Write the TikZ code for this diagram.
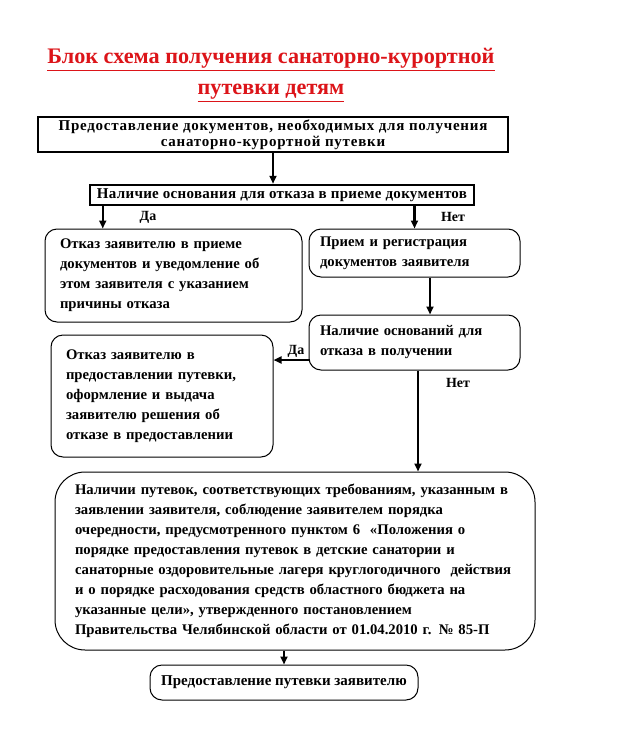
\documentclass[tikz,border=0pt]{standalone}
\usepackage{fontspec}
\setmainfont{Liberation Serif}
\usetikzlibrary{arrows.meta, positioning}
\definecolor{titlered}{RGB}{220, 20, 25}
\tikzset{
  sqbox/.style={rectangle, draw=black, line width=2.5pt, inner sep=0pt,
                minimum width=#1, align=center,
                font=\fontsize{15}{16}\selectfont\bfseries\addfontfeature{LetterSpace=5}},
  sqbox/.default=300pt,
  rbox/.style={rectangle, rounded corners=12pt, draw=black, line width=1pt,
               inner sep=0pt, minimum width=#1, align=left,
               font=\fontsize{14.7}{20}\selectfont\bfseries},
  rbox/.default=200pt,
  arrow/.style={-{Triangle[length=8pt, width=7pt]}, line width=2.5pt},
  answer/.style={font=\fontsize{14}{15}\selectfont\bfseries},
}
\begin{document}
\begin{tikzpicture}[x=1pt, y=-1pt]
  \useasboundingbox (0,0) rectangle (631,734);
  % title
  \node[text=titlered, align=center, font=\fontsize{22.2}{31}\selectfont\bfseries] (title) at (271,75)
       {\underline{Блок схема получения санаторно-курортной}\\\underline{путевки детям}};
  % boxes
  \node[sqbox=470pt, minimum height=35pt] (docs) at (273,134.5)
       {Предоставление документов, необходимых для получения\\санаторно-курортной путевки};
  \node[sqbox=384pt, minimum height=20pt, font=\fontsize{15}{16}\selectfont\bfseries\addfontfeature{LetterSpace=2}] (check1) at (282,195)
       {Наличие основания для отказа в приеме документов};
  \node[rbox=257pt, minimum height=93pt, text width=227pt] (refuse1) at (173.5,275.5)
       {Отказ заявителю в приеме\\документов и уведомление об\\этом заявителя с указанием\\причины отказа};
  \node[rbox=211pt, minimum height=48pt, text width=189pt] (accept) at (414.5,253)
       {Прием и регистрация\\документов заявителя};
  \node[rbox=211pt, minimum height=55pt, text width=189pt] (check2) at (414.5,342.5)
       {Наличие оснований для\\отказа в получении};
  \node[rbox=222pt, minimum height=122pt, text width=192pt] (refuse2) at (162,396)
       {Отказ заявителю в\\предоставлении путевки,\\оформление и выдача\\заявителю решения об\\отказе в предоставлении};
  \node[rbox=480pt, minimum height=178pt, text width=440pt, rounded corners=30pt] (terms) at (295,561)
       {Наличии путевок, соответствующих требованиям, указанным в\\
        заявлении заявителя, соблюдение заявителем порядка\\
        очередности, предусмотренного пунктом 6~~«Положения о\\
        порядке предоставления путевок в детские санатории и\\
        санаторные оздоровительные лагеря круглогодичного~~действия\\
        и о порядке расходования средств областного бюджета на\\
        указанные цели», утвержденного постановлением\\
        Правительства Челябинской области от 01.04.2010 г. №~85-П};
  \node[rbox=268pt, minimum height=35pt, align=center, font=\fontsize{15}{16}\selectfont\bfseries] (issue) at (284,682.5)
       {Предоставление путевки заявителю};
  % connectors
  \draw[arrow] (docs.south) -- (docs.south |- check1.north);
  \draw[arrow] ([xshift=14pt]check1.south west) -- ([xshift=14pt]check1.south west |- refuse1.north);
  \draw[arrow] (accept.north |- check1.south) -- (accept.north);
  \draw[arrow] ([xshift=15.5pt]accept.south) -- ([xshift=15.5pt]check2.north);
  \draw[arrow] ([yshift=-17.5pt]check2.west) -- ([yshift=-17.5pt]check2.west -| refuse2.east);
  \draw[arrow] ([xshift=3.5pt]check2.south) -- ([xshift=3.5pt]check2.south |- terms.north);
  \draw[arrow] (issue.north |- terms.south) -- (issue.north);
  % answers
  \node[answer] (yes1) at (148,217) {Да};
  \node[answer] (no1) at (453,217) {Нет};
  \node[answer] (yes2) at (296,351) {Да};
  \node[answer] (no2) at (458,383) {Нет};
\end{tikzpicture}
\end{document}
